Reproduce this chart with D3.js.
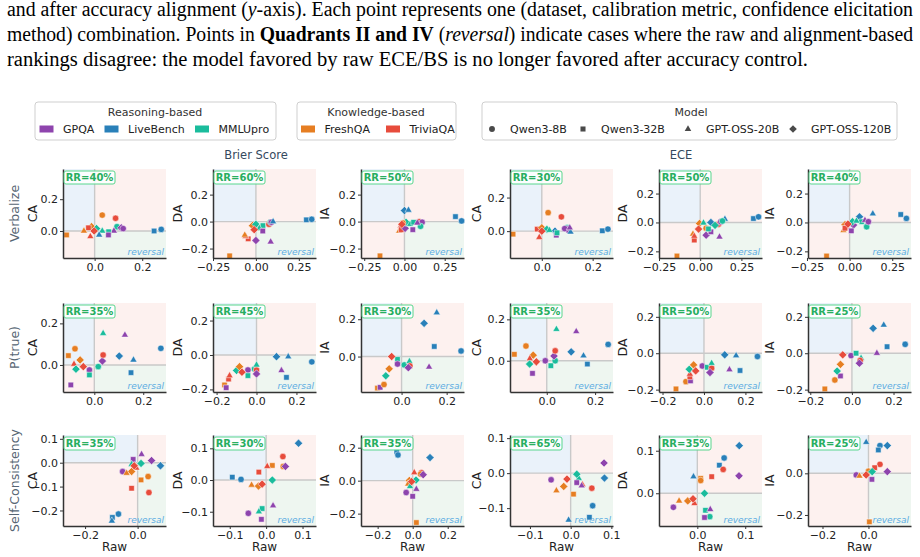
<!DOCTYPE html>
<html>
<head>
<meta charset="utf-8">
<script src="https://cdn.jsdelivr.net/npm/d3@7"></script>
<style>
  body { margin: 0; background: #fff; position: relative; width: 920px; height: 557px; overflow: hidden; }
  svg { display: block; font-family: "DejaVu Sans", sans-serif; }
  .capline { position: absolute; left: 7px; white-space: nowrap; transform-origin: 0 0;
    font-family: "Liberation Serif", "Times New Roman", serif; font-size: 20px; line-height: 25px; color: #000; }
</style>
</head>
<body>
<svg id="chart" width="920" height="557"></svg>
<script>
// ---- data ----
const datasets = ['GPQA', 'LiveBench', 'MMLUpro', 'FreshQA', 'TriviaQA'];
const datasetColors = ['#8e44ad', '#2980b9', '#1abc9c', '#e67e22', '#e74c3c'];
const models = ['Qwen3-8B', 'Qwen3-32B', 'GPT-OSS-20B', 'GPT-OSS-120B'];
const methods = ['Verbalize', 'P(true)', 'Self-Consistency'];
const metrics = ['Brier Score', 'ECE'];
const alignLabels = ['CA', 'DA', 'IA', 'CA', 'DA', 'IA'];

// reversal rate (%) per method row, per panel column
const rrValues = [
  [40, 60, 50, 30, 50, 40],
  [35, 45, 30, 35, 50, 25],
  [35, 30, 35, 65, 35, 25]
];

// axis limits per panel (row-major)
const xDomains = [
  [-0.133, 0.30], [-0.25, 0.35], [-0.27, 0.37], [-0.125, 0.28], [-0.25, 0.375], [-0.244, 0.36],
  [-0.128, 0.293], [-0.218, 0.298], [-0.18, 0.277], [-0.152, 0.274], [-0.217, 0.28], [-0.211, 0.284],
  [-0.284, 0.108], [-0.146, 0.137], [-0.295, 0.293], [-0.149, 0.104], [-0.08, 0.135], [-0.263, 0.185]
];
const yDomains = [
  [-0.17, 0.39], [-0.27, 0.39], [-0.27, 0.39], [-0.16, 0.37], [-0.246, 0.37], [-0.246, 0.37],
  [-0.13, 0.298], [-0.215, 0.302], [-0.19, 0.287], [-0.151, 0.279], [-0.213, 0.276], [-0.213, 0.276],
  [-0.265, 0.116], [-0.145, 0.142], [-0.275, 0.277], [-0.151, 0.109], [-0.077, 0.137], [-0.253, 0.184]
];
const xTicks = [
  [0, 0.2], [-0.25, 0, 0.25], [-0.25, 0, 0.25], [0, 0.2], [-0.25, 0, 0.25], [-0.25, 0, 0.25],
  [0, 0.2], [-0.2, 0, 0.2], [0, 0.2], [0, 0.2], [-0.2, 0, 0.2], [-0.2, 0, 0.2],
  [-0.2, 0], [-0.1, 0, 0.1], [-0.2, 0, 0.2], [-0.1, 0, 0.1], [0, 0.1], [-0.2, 0]
];
const yTicks = [
  [0, 0.2], [-0.2, 0, 0.2], [-0.2, 0, 0.2], [0, 0.2], [-0.2, 0, 0.2], [-0.2, 0, 0.2],
  [0, 0.2], [-0.2, 0, 0.2], [0, 0.2], [0, 0.2], [-0.2, 0, 0.2], [-0.2, 0, 0.2],
  [-0.2, -0.1, 0, 0.1], [-0.1, 0, 0.1], [-0.2, 0, 0.2], [-0.1, 0, 0.1], [0, 0.1], [-0.2, 0]
];

// points: [dataset, model, raw diff, aligned diff]
const verbalizePts = [
  [[3,1,-0.118,-0.025],[3,0,0.032,0.10],[4,0,0.088,0.08],[2,0,0.094,0.027],[0,3,0.112,0.02],[0,2,0.081,0.0],[2,1,0.059,-0.005],[0,1,0.058,-0.025],[2,2,0.032,0.0],[1,2,0.019,-0.025],[3,3,-0.013,0.027],[4,1,-0.026,0.02],[3,2,-0.045,0.0],[4,2,-0.018,-0.035],[2,3,0.008,0.015],[1,1,0.25,0.0],[1,0,0.28,0.01],[0,0,0.12,0.015],[4,3,-0.002,0.0]],
  [[3,1,-0.153,-0.254],[1,1,0.294,0.013],[1,0,0.325,0.017],[0,3,0.0,-0.14],[0,2,0.086,-0.15],[4,1,-0.045,-0.128],[4,2,-0.06,-0.11],[3,2,-0.065,-0.1],[3,0,0.025,-0.045],[3,3,-0.02,-0.03],[2,3,0.0,-0.02],[2,1,0.041,-0.03],[2,2,0.02,-0.05],[0,1,0.04,-0.07],[4,0,0.076,-0.02],[2,0,0.085,-0.005],[0,0,0.09,-0.005],[1,2,0.1,0.0],[4,3,-0.01,-0.06]],
  [[3,1,-0.152,-0.254],[1,3,0.0,0.082],[1,2,0.025,0.085],[1,1,0.317,0.037],[1,0,0.355,0.005],[4,2,-0.024,-0.035],[3,2,-0.033,-0.07],[4,1,-0.02,-0.06],[0,3,0.004,-0.05],[2,3,0.01,-0.005],[2,2,0.035,-0.02],[2,1,0.057,-0.005],[4,0,0.092,0.0],[0,0,0.11,-0.005],[2,0,0.1,-0.035],[0,1,0.052,-0.06],[3,0,-0.01,-0.01],[0,2,0.08,-0.01],[4,3,-0.016,-0.02]],
  [[3,1,-0.113,-0.018],[3,0,0.025,0.11],[4,0,0.077,0.085],[1,1,0.238,0.002],[1,0,0.26,0.012],[4,1,-0.018,0.012],[4,2,-0.01,-0.037],[3,3,0.0,0.02],[2,3,0.02,0.01],[1,3,0.052,0.0],[0,1,0.057,-0.024],[2,0,0.1,0.02],[0,3,0.1,0.01],[1,2,0.113,-0.005],[2,1,0.06,-0.01],[2,2,0.03,0.005],[0,0,0.09,0.015],[0,2,0.11,0.02],[4,3,0.0,0.0]],
  [[3,1,-0.141,-0.232],[1,1,0.323,0.027],[1,0,0.354,0.039],[4,1,-0.036,-0.122],[3,2,-0.044,-0.08],[4,2,-0.036,-0.095],[3,3,-0.004,-0.007],[2,2,0.02,-0.003],[3,0,0.036,-0.04],[0,3,0.036,-0.088],[1,3,0.065,0.0],[0,1,0.065,-0.065],[2,1,0.05,-0.045],[4,0,0.111,-0.012],[2,3,0.09,-0.02],[1,2,0.15,0.023],[0,2,0.117,-0.1],[0,0,0.125,0.005],[2,0,0.135,0.01],[4,3,-0.01,-0.046]],
  [[3,1,-0.135,-0.232],[1,1,0.30,0.055],[1,0,0.333,0.028],[1,2,0.136,0.06],[1,3,0.058,0.039],[4,0,-0.02,-0.02],[3,3,-0.027,-0.015],[3,2,-0.036,-0.056],[4,2,-0.019,-0.032],[4,1,-0.027,-0.04],[0,3,0.023,-0.018],[0,1,0.01,-0.058],[2,3,0.017,0.005],[2,1,0.07,0.005],[2,0,0.1,-0.03],[0,2,0.09,0.015],[0,0,0.11,0.005],[2,2,0.04,0.01],[4,3,-0.01,-0.011]]
];
const ptruePts = [
  [[3,1,-0.106,0.045],[3,0,-0.079,0.078],[0,1,-0.096,-0.096],[3,3,-0.058,0.024],[4,2,-0.083,0.004],[2,3,-0.075,-0.02],[0,0,-0.02,-0.024],[2,1,-0.02,-0.048],[2,0,0.016,-0.008],[0,3,0.033,0.019],[4,0,0.036,0.048],[2,2,0.036,0.152],[0,2,0.125,0.144],[1,3,0.102,0.043],[1,2,0.16,0.024],[1,1,0.15,-0.037],[1,0,0.272,0.08],[4,3,-0.045,-0.008]],
  [[3,1,-0.16,-0.174],[0,1,-0.152,-0.19],[4,1,-0.14,-0.14],[4,2,-0.135,-0.12],[2,3,-0.1,-0.09],[3,3,-0.085,-0.068],[0,0,-0.043,-0.087],[2,1,-0.043,-0.12],[2,0,-0.01,-0.081],[4,0,0.0,-0.087],[2,2,0.0,-0.058],[0,3,0.0,-0.11],[1,3,0.1,-0.01],[1,2,0.159,-0.01],[0,2,0.125,-0.09],[1,1,0.15,-0.13],[1,0,0.277,-0.04],[4,3,-0.073,-0.1]],
  [[3,1,-0.107,-0.169],[0,1,-0.095,-0.165],[3,0,-0.078,-0.15],[2,3,-0.07,-0.103],[3,3,-0.055,-0.066],[2,1,-0.018,-0.015],[0,0,-0.018,-0.04],[2,0,0.012,-0.045],[2,2,0.035,-0.026],[4,0,0.037,-0.05],[0,3,0.03,-0.06],[1,3,0.1,0.178],[1,2,0.156,0.235],[1,1,0.145,0.054],[1,0,0.264,0.03],[0,2,0.122,-0.056],[4,3,-0.044,0.0]],
  [[3,1,-0.134,0.031],[3,0,-0.086,0.071],[3,3,-0.056,0.027],[4,2,-0.07,0.01],[2,3,-0.071,-0.016],[0,1,-0.059,-0.061],[0,0,-0.006,0.0],[2,1,0.017,-0.024],[2,0,0.035,0.0],[0,3,0.03,0.023],[4,0,0.035,0.048],[2,2,0.04,0.152],[0,2,0.122,0.141],[1,3,0.101,0.043],[1,2,0.152,0.024],[1,1,0.168,-0.016],[1,0,0.254,0.079],[4,3,-0.043,-0.005]],
  [[3,1,-0.135,-0.196],[3,0,-0.087,-0.156],[0,1,-0.065,-0.152],[4,1,-0.068,-0.13],[4,2,-0.068,-0.115],[2,3,-0.071,-0.088],[3,3,-0.05,-0.064],[0,0,-0.008,-0.07],[2,1,0.016,-0.077],[4,0,0.037,-0.082],[2,2,0.037,-0.055],[0,3,0.029,-0.106],[1,3,0.1,-0.009],[1,2,0.155,-0.013],[0,2,0.123,-0.09],[1,1,0.174,-0.095],[1,0,0.258,-0.018],[4,3,-0.04,-0.097]],
  [[3,1,-0.13,-0.196],[3,0,-0.082,-0.147],[0,1,-0.055,-0.125],[2,3,-0.071,-0.098],[3,3,-0.055,-0.061],[0,0,-0.004,-0.013],[2,1,0.02,0.0],[2,2,0.044,-0.027],[4,0,0.04,-0.04],[0,3,0.036,-0.055],[1,3,0.102,0.137],[1,2,0.153,0.155],[1,1,0.169,0.036],[1,0,0.256,0.049],[0,2,0.12,0.0],[4,3,-0.044,-0.009]]
];
const selfConsPts = [
  [[0,1,-0.017,0.014],[0,2,0.015,0.035],[0,3,0.053,0.009],[1,3,0.087,-0.013],[2,3,0.013,-0.003],[2,2,-0.023,-0.007],[4,2,-0.005,-0.022],[3,3,-0.023,-0.037],[0,0,-0.057,-0.037],[3,2,-0.042,-0.044],[3,1,0.013,-0.072],[3,0,0.04,-0.058],[4,1,-0.023,-0.107],[4,0,0.043,-0.125],[1,0,-0.073,-0.215],[1,1,-0.096,-0.229],[1,2,-0.098,-0.244],[4,3,-0.013,-0.013]],
  [[1,3,0.089,0.116],[4,0,0.046,0.074],[3,1,0.017,0.046],[4,2,0.003,0.043],[3,0,0.047,0.043],[0,3,0.053,0.043],[4,1,-0.02,0.025],[1,1,-0.093,0.009],[1,0,-0.069,0.002],[2,3,0.017,0.0],[3,2,-0.04,-0.016],[3,3,-0.021,-0.019],[2,1,-0.011,-0.09],[0,2,0.019,-0.081],[2,2,-0.02,-0.1],[0,0,-0.049,-0.105],[0,1,-0.013,-0.124],[4,3,-0.011,-0.013]],
  [[1,1,-0.091,0.176],[1,0,-0.084,0.156],[1,3,0.099,0.14],[4,2,0.009,0.049],[4,0,0.05,0.049],[3,0,0.045,0.04],[0,3,0.06,0.036],[2,3,0.019,0.004],[3,3,-0.019,0.001],[3,2,-0.026,-0.02],[0,2,0.021,-0.052],[2,2,-0.015,-0.035],[0,0,-0.037,-0.072],[0,1,0.0,-0.095],[3,1,0.021,-0.254],[4,3,-0.006,-0.006]],
  [[0,3,0.082,0.029],[1,3,0.083,-0.014],[0,0,-0.048,-0.019],[2,2,0.02,-0.015],[0,1,0.015,-0.027],[3,3,-0.017,-0.038],[3,2,-0.035,-0.05],[4,2,0.029,-0.033],[0,2,0.027,-0.036],[4,0,0.052,-0.043],[3,1,0.007,-0.06],[1,0,0.054,-0.093],[1,1,0.046,-0.126],[1,2,-0.005,-0.134],[4,3,-0.009,-0.017],[2,3,0.015,-0.003]],
  [[1,3,0.0875,0.112],[1,0,0.056,0.083],[1,1,0.046,0.066],[4,0,0.054,0.056],[0,3,0.087,0.041],[4,1,0.03,0.039],[1,2,-0.008,0.039],[3,1,0.007,0.035],[3,0,0.007,0.03],[3,3,-0.02,-0.018],[3,2,-0.038,-0.018],[4,2,-0.006,-0.024],[0,0,-0.05,-0.033],[2,1,0.017,-0.04],[0,2,0.027,-0.038],[2,0,0.026,-0.055],[0,1,0.015,-0.057],[4,3,-0.009,-0.013],[2,3,0.015,0.0]],
  [[1,2,-0.01,0.149],[1,0,0.05,0.133],[1,3,0.082,0.133],[1,1,0.043,0.112],[4,0,0.05,0.043],[4,1,0.027,0.027],[0,3,0.082,0.008],[3,0,0.0,0.01],[0,0,-0.053,-0.008],[3,2,-0.039,-0.013],[0,1,0.015,-0.029],[3,1,0.004,-0.233],[4,3,-0.01,-0.008],[2,3,0.016,0.008]]
];
const allPts = [verbalizePts, ptruePts, selfConsPts];

const captionLines = [
  'and after accuracy alignment (<i>y</i>-axis). Each point represents one (dataset, calibration metric, confidence elicitation',
  'method) combination. Points in <b>Quadrants II and IV</b> (<i>reversal</i>) indicate cases where the raw and alignment-based',
  'rankings disagree: the model favored by raw ECE/BS is no longer favored after accuracy control.'
];

// ---- layout ----
const colX = [63, 213, 361, 510, 659, 808];
const rowY = [169, 303, 435];
const panelW = 103;
const panelH = [89, 89, 91];
const yLabelOffset = [31, 36, 37, 34, 37, 39];
const captionWidths = [906, 906, 801];

const svg = d3.select('#chart');

// caption text above the figure: each line squeezed to its width in the reference
captionLines.forEach((html, k) => {
  const line = d3.select('body').append('div').attr('class', 'capline')
    .style('top', (-3 + 25 * k) + 'px').html(html);
  const w = line.node().getBoundingClientRect().width;
  line.style('transform', `scaleX(${captionWidths[k] / w})`);
});

// marker shapes
const symbolFor = [d3.symbolCircle, d3.symbolSquare, d3.symbolTriangle, d3.symbolSquare];
const symbolSize = [32, 30, 22, 34];
function markerPath(m, scale) {
  return d3.symbol().type(symbolFor[m]).size(symbolSize[m] * (scale || 1))();
}
function markerRot(m) { return m === 3 ? ' rotate(45)' : ''; }

// ---- legends ----
function legendBox(x, w, title, titleX) {
  svg.append('rect').attr('x', x).attr('y', 102).attr('width', w).attr('height', 38)
    .attr('rx', 3).attr('fill', '#fff').attr('stroke', '#cfcfcf').attr('stroke-width', 1);
  svg.append('text').attr('x', titleX).attr('y', 116).attr('text-anchor', 'middle')
    .attr('font-size', 11).attr('fill', '#333').text(title);
}
legendBox(35, 241, 'Reasoning-based', 155);
legendBox(297, 159, 'Knowledge-based', 376);
legendBox(482, 415, 'Model', 691);

const dsPatchX = [39.5, 104.5, 195, 301, 386];
datasets.forEach((d, i) => {
  svg.append('rect').attr('x', dsPatchX[i]).attr('y', 125.5).attr('width', 14).attr('height', 7)
    .attr('fill', datasetColors[i]);
  svg.append('text').attr('x', dsPatchX[i] + 23.5).attr('y', 133).attr('font-size', 11)
    .attr('fill', '#222').text(d);
});
const mkX = [492, 583, 688, 793];
models.forEach((m, i) => {
  svg.append('path').attr('d', markerPath(i, 0.85))
    .attr('transform', `translate(${mkX[i]},129)` + markerRot(i)).attr('fill', '#4a4a4a');
  svg.append('text').attr('x', mkX[i] + 18).attr('y', 133).attr('font-size', 11)
    .attr('fill', '#222').text(m);
});

// column group titles
svg.append('text').attr('x', 256).attr('y', 159).attr('text-anchor', 'middle')
  .attr('font-size', 11.5).attr('fill', '#34495e').text(metrics[0]);
svg.append('text').attr('x', 681).attr('y', 159).attr('text-anchor', 'middle')
  .attr('font-size', 11.5).attr('fill', '#34495e').text(metrics[1]);

const defs = svg.append('defs');

// ---- panels ----
for (let r = 0; r < 3; r++) {
  // row title
  const cy = rowY[r] + panelH[r] / 2;
  svg.append('text').attr('transform', `translate(19,${cy}) rotate(-90)`)
    .attr('text-anchor', 'middle').attr('font-size', 12.5).attr('fill', '#566573').text(methods[r]);

  for (let c = 0; c < 6; c++) {
    const i = r * 6 + c;
    const x0 = colX[c], y0 = rowY[r], w = panelW, h = panelH[r];
    const x = d3.scaleLinear().domain(xDomains[i]).range([x0, x0 + w]);
    const y = d3.scaleLinear().domain(yDomains[i]).range([y0 + h, y0]);
    const zx = x(0), zy = y(0);
    const g = svg.append('g');

    // quadrant shading
    g.append('rect').attr('x', zx).attr('y', y0).attr('width', x0 + w - zx).attr('height', zy - y0).attr('fill', '#fdf1ef');
    g.append('rect').attr('x', x0).attr('y', zy).attr('width', zx - x0).attr('height', y0 + h - zy).attr('fill', '#fdf1ef');
    g.append('rect').attr('x', x0).attr('y', y0).attr('width', zx - x0).attr('height', zy - y0).attr('fill', '#eaf2fa');
    g.append('rect').attr('x', zx).attr('y', zy).attr('width', x0 + w - zx).attr('height', y0 + h - zy).attr('fill', '#eef6f0');

    // zero lines
    g.append('line').attr('x1', zx).attr('x2', zx).attr('y1', y0).attr('y2', y0 + h)
      .attr('stroke', '#c9c9c9').attr('stroke-width', 1.4);
    g.append('line').attr('x1', x0).attr('x2', x0 + w).attr('y1', zy).attr('y2', zy)
      .attr('stroke', '#c9c9c9').attr('stroke-width', 1.4);

    // reversal labels
    const clipId = 'q2clip' + i;
    defs.append('clipPath').attr('id', clipId).append('rect')
      .attr('x', x0).attr('y', y0).attr('width', zx - x0).attr('height', zy - y0);
    g.append('text').attr('clip-path', `url(#${clipId})`)
      .attr('transform', `translate(${x0 + 7.5},${(y0 + zy) / 2}) rotate(-90)`)
      .attr('text-anchor', 'middle').attr('font-size', 9).attr('font-style', 'italic')
      .attr('fill', '#5dade2').text('reversal');
    g.append('text').attr('x', x0 + w - 2).attr('y', y0 + h - 3)
      .attr('text-anchor', 'end').attr('font-size', 9).attr('font-style', 'italic')
      .attr('fill', '#5dade2').text('reversal');

    // points
    const pts = allPts[r][c];
    g.selectAll('path.pt').data(pts).enter().append('path')
      .attr('class', 'pt')
      .attr('d', d => markerPath(d[1]))
      .attr('transform', d => `translate(${x(d[2])},${y(d[3])})` + markerRot(d[1]))
      .attr('fill', d => datasetColors[d[0]])
      .attr('stroke', '#fff').attr('stroke-width', 0.5);

    // axes
    const fmtOf = t => t.some(v => Math.abs(v * 10 - Math.round(v * 10)) > 1e-9) ? d3.format('.2f') : d3.format('.1f');
    const xa = g.append('g').attr('transform', `translate(0,${y0 + h})`)
      .call(d3.axisBottom(x).tickValues(xTicks[i]).tickFormat(fmtOf(xTicks[i]))
        .tickSize(3).tickSizeOuter(0).tickPadding(2));
    const ya = g.append('g').attr('transform', `translate(${x0},0)`)
      .call(d3.axisLeft(y).tickValues(yTicks[i]).tickFormat(fmtOf(yTicks[i]))
        .tickSize(3).tickSizeOuter(0).tickPadding(2));
    [xa, ya].forEach(a => {
      a.attr('font-size', 11).attr('font-family', '"DejaVu Sans", sans-serif');
      a.select('.domain').attr('stroke', '#333').attr('stroke-width', 1.5);
      a.selectAll('.tick line').attr('stroke', '#333');
      a.selectAll('.tick text').attr('fill', '#222');
    });

    // y label (text centre sits a fixed distance left of the spine)
    g.append('text').attr('transform', `translate(${x0 - yLabelOffset[c] + 4.5},${y0 + h / 2}) rotate(-90)`)
      .attr('text-anchor', 'middle').attr('font-size', 12.5).attr('fill', '#222').text(alignLabels[c]);

    if (r === 2) {
      g.append('text').attr('x', x0 + w / 2).attr('y', y0 + h + 25)
        .attr('text-anchor', 'middle').attr('font-size', 12).attr('fill', '#222').text('Raw');
    }

    // RR badge
    g.append('rect').attr('x', x0 + 1).attr('y', y0 + 2).attr('width', 51).attr('height', 13)
      .attr('rx', 2).attr('fill', '#fff').attr('fill-opacity', 0.85)
      .attr('stroke', '#58d68d').attr('stroke-width', 1);
    g.append('text').attr('x', x0 + 26.5).attr('y', y0 + 12.3).attr('text-anchor', 'middle')
      .attr('font-size', 10).attr('font-weight', 'bold').attr('fill', '#27ae60')
      .text(`RR=${rrValues[r][c]}%`);
  }
}
</script>
</body>
</html>
